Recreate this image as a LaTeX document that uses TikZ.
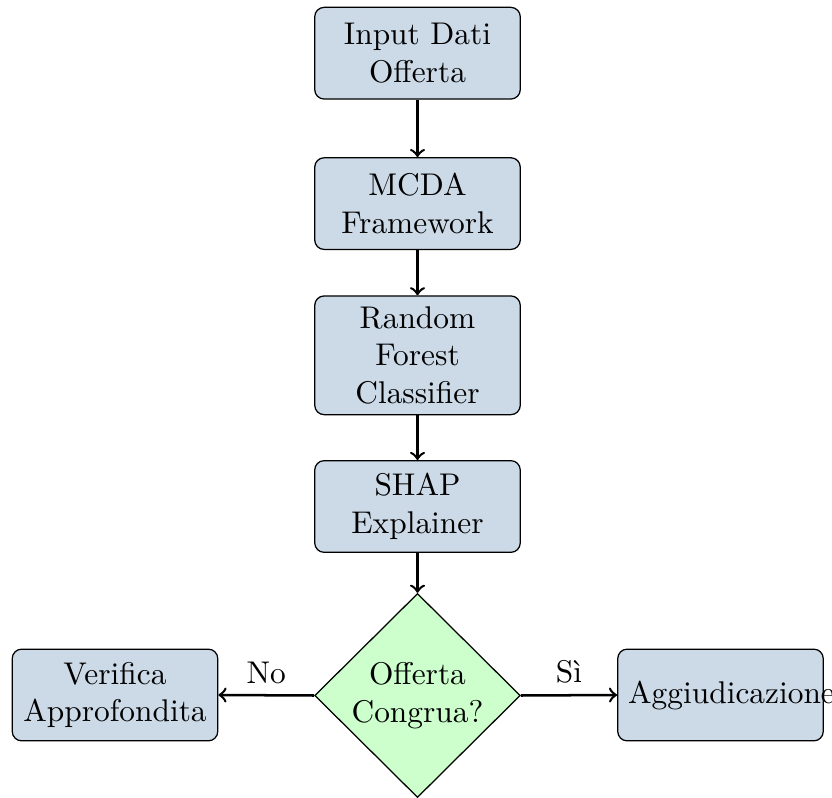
\documentclass[tikz,border=0pt]{standalone}
\usetikzlibrary{shapes.geometric}
\definecolor{boxblue}{RGB}{204,218,232}
\definecolor{dgreen}{RGB}{204,255,204}
\begin{document}
\begin{tikzpicture}[x=0.3185pt,y=-0.3185pt,
  procbox/.style={rectangle, rounded corners=3pt, draw=black, fill=boxblue,
    text width=58.8pt, align=center, minimum height=29.2pt, inner sep=3.33pt},
  decbox/.style={diamond, aspect=1, draw=black, fill=dgreen, align=center,
    inner sep=0pt, minimum width=65.5pt, minimum height=65pt},
  flow/.style={->, thick}]
\useasboundingbox (0,0) rectangle (832,798);
\node[procbox] (input) at (417.5,53.2) {Input Dati Offerta};
\node[procbox] (mcda) at (417.5,203.6) {MCDA Framework};
\node[procbox] (rf) at (417.5,355.3) {Random Forest Classifier};
\node[procbox] (shap) at (417.5,506.5) {SHAP Explainer};
\node[decbox] (dec) at (417.5,695.5) {Offerta\\Congrua?};
\node[procbox] (ver) at (115,695) {Verifica Approfondita};
\node[procbox] (agg) at (720.5,695) {Aggiudicazione};
\draw[flow] (input) -- (mcda);
\draw[flow] (mcda) -- (rf);
\draw[flow] (rf) -- (shap);
\draw[flow] (shap) -- (dec);
\draw[flow] (dec.west) -- node[above] {No} (ver.east);
\draw[flow] (dec.east) -- node[above] {Sì} (agg.west);
\end{tikzpicture}
\end{document}
